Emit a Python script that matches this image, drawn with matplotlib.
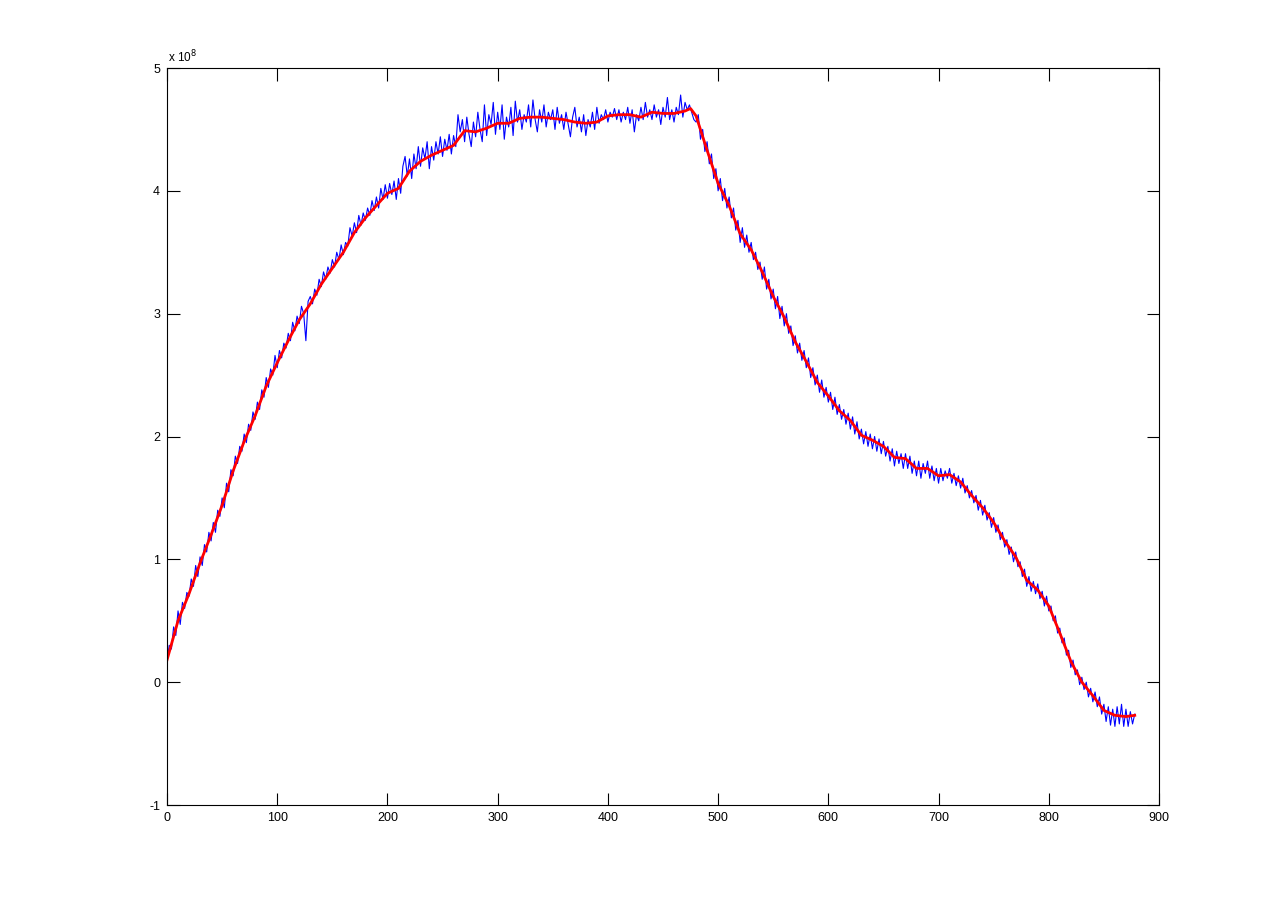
import numpy as np
import matplotlib
matplotlib.use("Agg")
import matplotlib.pyplot as plt

# Values in units of 1e8
red_x = [0, 10, 20, 30, 40, 50, 60, 70, 80, 90, 100, 110, 120, 130, 140, 150, 160, 170, 180, 190,
         200, 210, 220, 230, 240, 250, 260, 270, 280, 290, 300, 310, 320, 330, 340, 350, 360, 370,
         380, 390, 400, 410, 420, 430, 440, 450, 460, 470, 475, 480, 490, 500, 510, 520, 530, 540,
         550, 560, 570, 580, 590, 600, 610, 620, 630, 640, 650, 660, 670, 680, 690, 700, 710, 720,
         730, 740, 750, 760, 770, 780, 790, 800, 810, 820, 830, 840, 850, 860, 870, 878]
red_y = [0.18, 0.50, 0.72, 0.97, 1.20, 1.44, 1.72, 1.96, 2.17, 2.41, 2.60, 2.78, 2.95, 3.08, 3.24,
         3.37, 3.50, 3.66, 3.78, 3.88, 3.98, 4.02, 4.16, 4.24, 4.29, 4.33, 4.37, 4.49, 4.48, 4.51,
         4.55, 4.55, 4.59, 4.60, 4.60, 4.59, 4.58, 4.56, 4.55, 4.56, 4.61, 4.62, 4.62, 4.60, 4.64,
         4.63, 4.63, 4.65, 4.67, 4.61, 4.33, 4.06, 3.88, 3.65, 3.52, 3.34, 3.14, 2.97, 2.77, 2.61,
         2.44, 2.33, 2.21, 2.13, 2.01, 1.97, 1.92, 1.83, 1.82, 1.74, 1.74, 1.68, 1.69, 1.63, 1.52,
         1.42, 1.30, 1.15, 1.02, 0.83, 0.75, 0.62, 0.40, 0.17, 0.00, -0.11, -0.23, -0.27, -0.28, -0.27]

blue_y = [
    0.16, 0.30, 0.27, 0.45, 0.38, 0.58, 0.47, 0.65, 0.60, 0.73,
    0.70, 0.84, 0.78, 0.95, 0.86, 1.02, 0.95, 1.12, 1.06, 1.22,
    1.15, 1.30, 1.22, 1.40, 1.35, 1.50, 1.42, 1.62, 1.55, 1.73,
    1.68, 1.84, 1.78, 1.92, 1.88, 2.02, 1.95, 2.10, 2.05, 2.20,
    2.14, 2.28, 2.22, 2.38, 2.32, 2.48, 2.40, 2.55, 2.50, 2.66,
    2.56, 2.70, 2.64, 2.76, 2.72, 2.84, 2.78, 2.93, 2.86, 2.98,
    2.92, 3.06, 3.00, 2.78, 3.10, 3.14, 3.08, 3.20, 3.15, 3.28,
    3.22, 3.34, 3.28, 3.38, 3.33, 3.44, 3.38, 3.50, 3.44, 3.56,
    3.48, 3.58, 3.55, 3.70, 3.63, 3.74, 3.66, 3.80, 3.72, 3.82,
    3.76, 3.86, 3.80, 3.92, 3.84, 3.95, 3.86, 4.02, 3.93, 4.05,
    3.94, 4.06, 3.97, 4.08, 3.93, 4.10, 3.98, 4.20, 4.28, 4.12,
    4.26, 4.10, 4.30, 4.18, 4.36, 4.20, 4.35, 4.26, 4.40, 4.18,
    4.36, 4.25, 4.40, 4.30, 4.44, 4.28, 4.42, 4.33, 4.46, 4.30,
    4.45, 4.36, 4.62, 4.48, 4.58, 4.40, 4.60, 4.46, 4.36, 4.56,
    4.44, 4.64, 4.50, 4.40, 4.70, 4.45, 4.62, 4.54, 4.72, 4.46,
    4.64, 4.50, 4.70, 4.42, 4.60, 4.52, 4.68, 4.45, 4.73, 4.56,
    4.66, 4.50, 4.62, 4.56, 4.70, 4.52, 4.74, 4.58, 4.48, 4.66,
    4.56, 4.70, 4.52, 4.64, 4.58, 4.66, 4.50, 4.68, 4.55, 4.62,
    4.50, 4.64, 4.54, 4.44, 4.60, 4.68, 4.52, 4.60, 4.48, 4.62,
    4.45, 4.58, 4.52, 4.64, 4.50, 4.68, 4.55, 4.62, 4.58, 4.66,
    4.56, 4.64, 4.60, 4.67, 4.58, 4.66, 4.56, 4.64, 4.58, 4.68,
    4.55, 4.66, 4.48, 4.62, 4.57, 4.68, 4.58, 4.72, 4.60, 4.66,
    4.58, 4.70, 4.60, 4.66, 4.54, 4.68, 4.60, 4.76, 4.58, 4.66,
    4.56, 4.68, 4.62, 4.78, 4.60, 4.72, 4.66, 4.70, 4.64, 4.58,
    4.56, 4.62, 4.42, 4.50, 4.32, 4.40, 4.22, 4.30, 4.10, 4.18,
    4.00, 4.10, 3.92, 4.02, 3.86, 3.95, 3.78, 3.86, 3.68, 3.76,
    3.58, 3.70, 3.54, 3.64, 3.50, 3.58, 3.44, 3.50, 3.36, 3.42,
    3.28, 3.38, 3.20, 3.28, 3.12, 3.20, 3.04, 3.14, 2.96, 3.06,
    2.90, 3.00, 2.84, 2.90, 2.74, 2.82, 2.68, 2.76, 2.62, 2.70,
    2.56, 2.64, 2.48, 2.56, 2.42, 2.50, 2.36, 2.46, 2.32, 2.40,
    2.28, 2.36, 2.22, 2.32, 2.18, 2.26, 2.14, 2.22, 2.10, 2.19,
    2.06, 2.16, 2.02, 2.12, 1.98, 2.06, 1.94, 2.04, 1.92, 2.02,
    1.90, 2.00, 1.88, 1.98, 1.86, 1.96, 1.84, 1.92, 1.80, 1.90,
    1.76, 1.88, 1.78, 1.86, 1.74, 1.86, 1.74, 1.84, 1.70, 1.80,
    1.68, 1.80, 1.66, 1.78, 1.70, 1.80, 1.66, 1.76, 1.64, 1.74,
    1.62, 1.74, 1.64, 1.72, 1.66, 1.74, 1.62, 1.70, 1.60, 1.68,
    1.58, 1.66, 1.54, 1.60, 1.50, 1.56, 1.46, 1.52, 1.40, 1.48,
    1.36, 1.44, 1.32, 1.38, 1.26, 1.34, 1.22, 1.28, 1.16, 1.22,
    1.10, 1.16, 1.04, 1.10, 0.98, 1.06, 0.94, 0.98, 0.86, 0.92,
    0.78, 0.86, 0.74, 0.82, 0.72, 0.80, 0.68, 0.74, 0.62, 0.70,
    0.58, 0.62, 0.50, 0.54, 0.40, 0.44, 0.32, 0.36, 0.22, 0.26,
    0.12, 0.18, 0.06, 0.10, -0.02, 0.04, -0.06, 0.00, -0.12, -0.05,
    -0.16, -0.08, -0.20, -0.12, -0.26, -0.18, -0.32, -0.20, -0.35, -0.22,
    -0.36, -0.20, -0.34, -0.18, -0.36, -0.22, -0.36, -0.24, -0.34, -0.26,
]
blue_x = list(range(0, 2 * len(blue_y), 2))

x_ticks = [0, 100, 200, 300, 400, 500, 600, 700, 800, 900]
y_ticks = [-1, 0, 1, 2, 3, 4, 5]

plt.rcParams['font.family'] = ['Liberation Sans', 'DejaVu Sans']

fig = plt.figure(figsize=(12.81, 9.05), dpi=100)
ax = fig.add_axes([167 / 1281, 1 - 805 / 905, (1159 - 167) / 1281, (805 - 68) / 905])

ax.plot(blue_x, blue_y, color=(0, 0, 1), linewidth=0.8)
ax.plot(red_x, red_y, color=(1, 0, 0), linewidth=2.0)

ax.set_xlim(0, 900)
ax.set_ylim(-1, 5)
ax.set_xticks(x_ticks)
ax.set_yticks(y_ticks)
ax.set_xticklabels([str(t) for t in x_ticks])
ax.set_yticklabels([str(t) for t in y_ticks])
ax.tick_params(direction='in', length=9, width=0.8, top=True, right=True,
               labelsize=9, pad=5)
for s in ax.spines.values():
    s.set_linewidth(0.8)

ax.text(0.001, 1.003, "x 10$^{8}$", transform=ax.transAxes, fontsize=8.5,
        ha='left', va='bottom')

fig.savefig("out.png", dpi=100)
